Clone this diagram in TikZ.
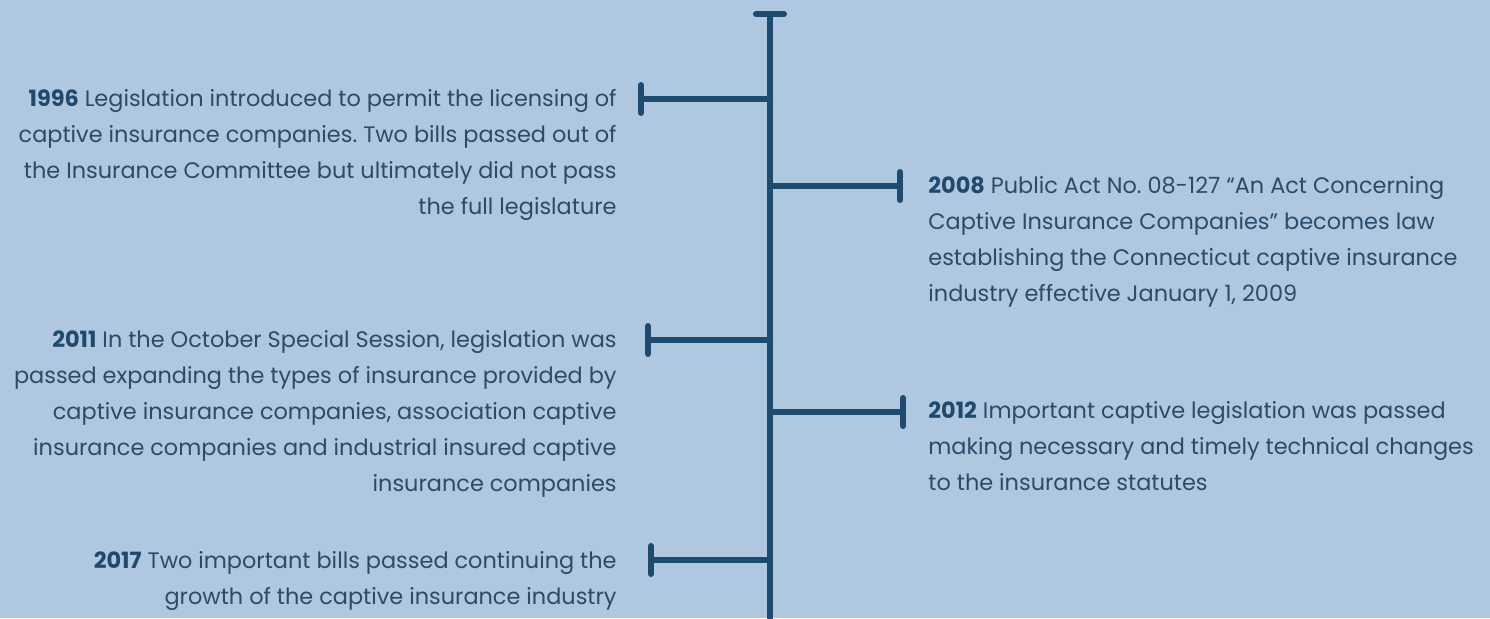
\documentclass[tikz,border=0pt]{standalone}
\usepackage{fontspec}
\setmainfont{Poppins}
\usetikzlibrary{arrows.meta}
\definecolor{bgblue}{HTML}{AFC7DF}
\definecolor{linenavy}{HTML}{1E4A6F}
\definecolor{textnavy}{HTML}{2B4B6B}
\frenchspacing

\begin{document}
\begin{tikzpicture}[x=0.5pt,y=-0.5pt,
  axis/.style={draw=linenavy,line width=3pt,line cap=round},
  branch/.style={axis,-{Bar[width=14pt,line cap=round]}},
  lefttext/.style={anchor=north east,align=right,inner sep=0pt,text=textnavy,
    font=\fontsize{11.2}{18}\selectfont},
  righttext/.style={anchor=north west,align=left,inner sep=0pt,text=textnavy,
    font=\fontsize{11.2}{18}\selectfont}]
\fill[bgblue] (0,0) rectangle (1490,618);
\useasboundingbox (0,0) rectangle (1490,618);
\coordinate (top) at (770,11);
\coordinate (bottom) at (770,618);
\coordinate (b1996) at (770,99);
\coordinate (e1996) at (638,99);
\coordinate (b2008) at (770,186);
\coordinate (e2008) at (903,186);
\coordinate (b2011) at (770,340);
\coordinate (e2011) at (645,340);
\coordinate (b2012) at (770,412);
\coordinate (e2012) at (906,412);
\coordinate (b2017) at (770,560);
\coordinate (e2017) at (648,560);
\draw[axis,{Bar[width=14pt,line cap=round]}-] (top) -- (bottom);
\draw[branch] (b1996) -- (e1996);
\draw[branch] (b2008) -- (e2008);
\draw[branch] (b2011) -- (e2011);
\draw[branch] (b2012) -- (e2012);
\draw[branch] (b2017) -- (e2017);
\node[lefttext] (t1996) at (617,89) {\textbf{\color{linenavy}1996} Legislation introduced to permit the licensing of\\
captive insurance companies. Two bills passed out of\\
the Insurance Committee but ultimately did not pass\\
the full legislature};
\node[righttext] (t2008) at (928,176) {\textbf{\color{linenavy}2008} Public Act No. 08-127 “An Act Concerning\\
Captive Insurance Companies” becomes law\\
establishing the Connecticut captive insurance\\
industry effective January 1, 2009};
\node[lefttext] (t2011) at (617,330) {\textbf{\color{linenavy}2011} In the October Special Session, legislation was\\
passed expanding the types of insurance provided by\\
captive insurance companies, association captive\\
insurance companies and industrial insured captive\\
insurance companies\ };
\node[righttext] (t2012) at (928,401) {\textbf{\color{linenavy}2012} Important captive legislation was passed\\
making necessary and timely technical changes\\
to the insurance statutes};
\node[lefttext] (t2017) at (617,551) {\textbf{\color{linenavy}2017} Two important bills passed continuing the\\
growth of the captive insurance industry};
\end{tikzpicture}
\end{document}
